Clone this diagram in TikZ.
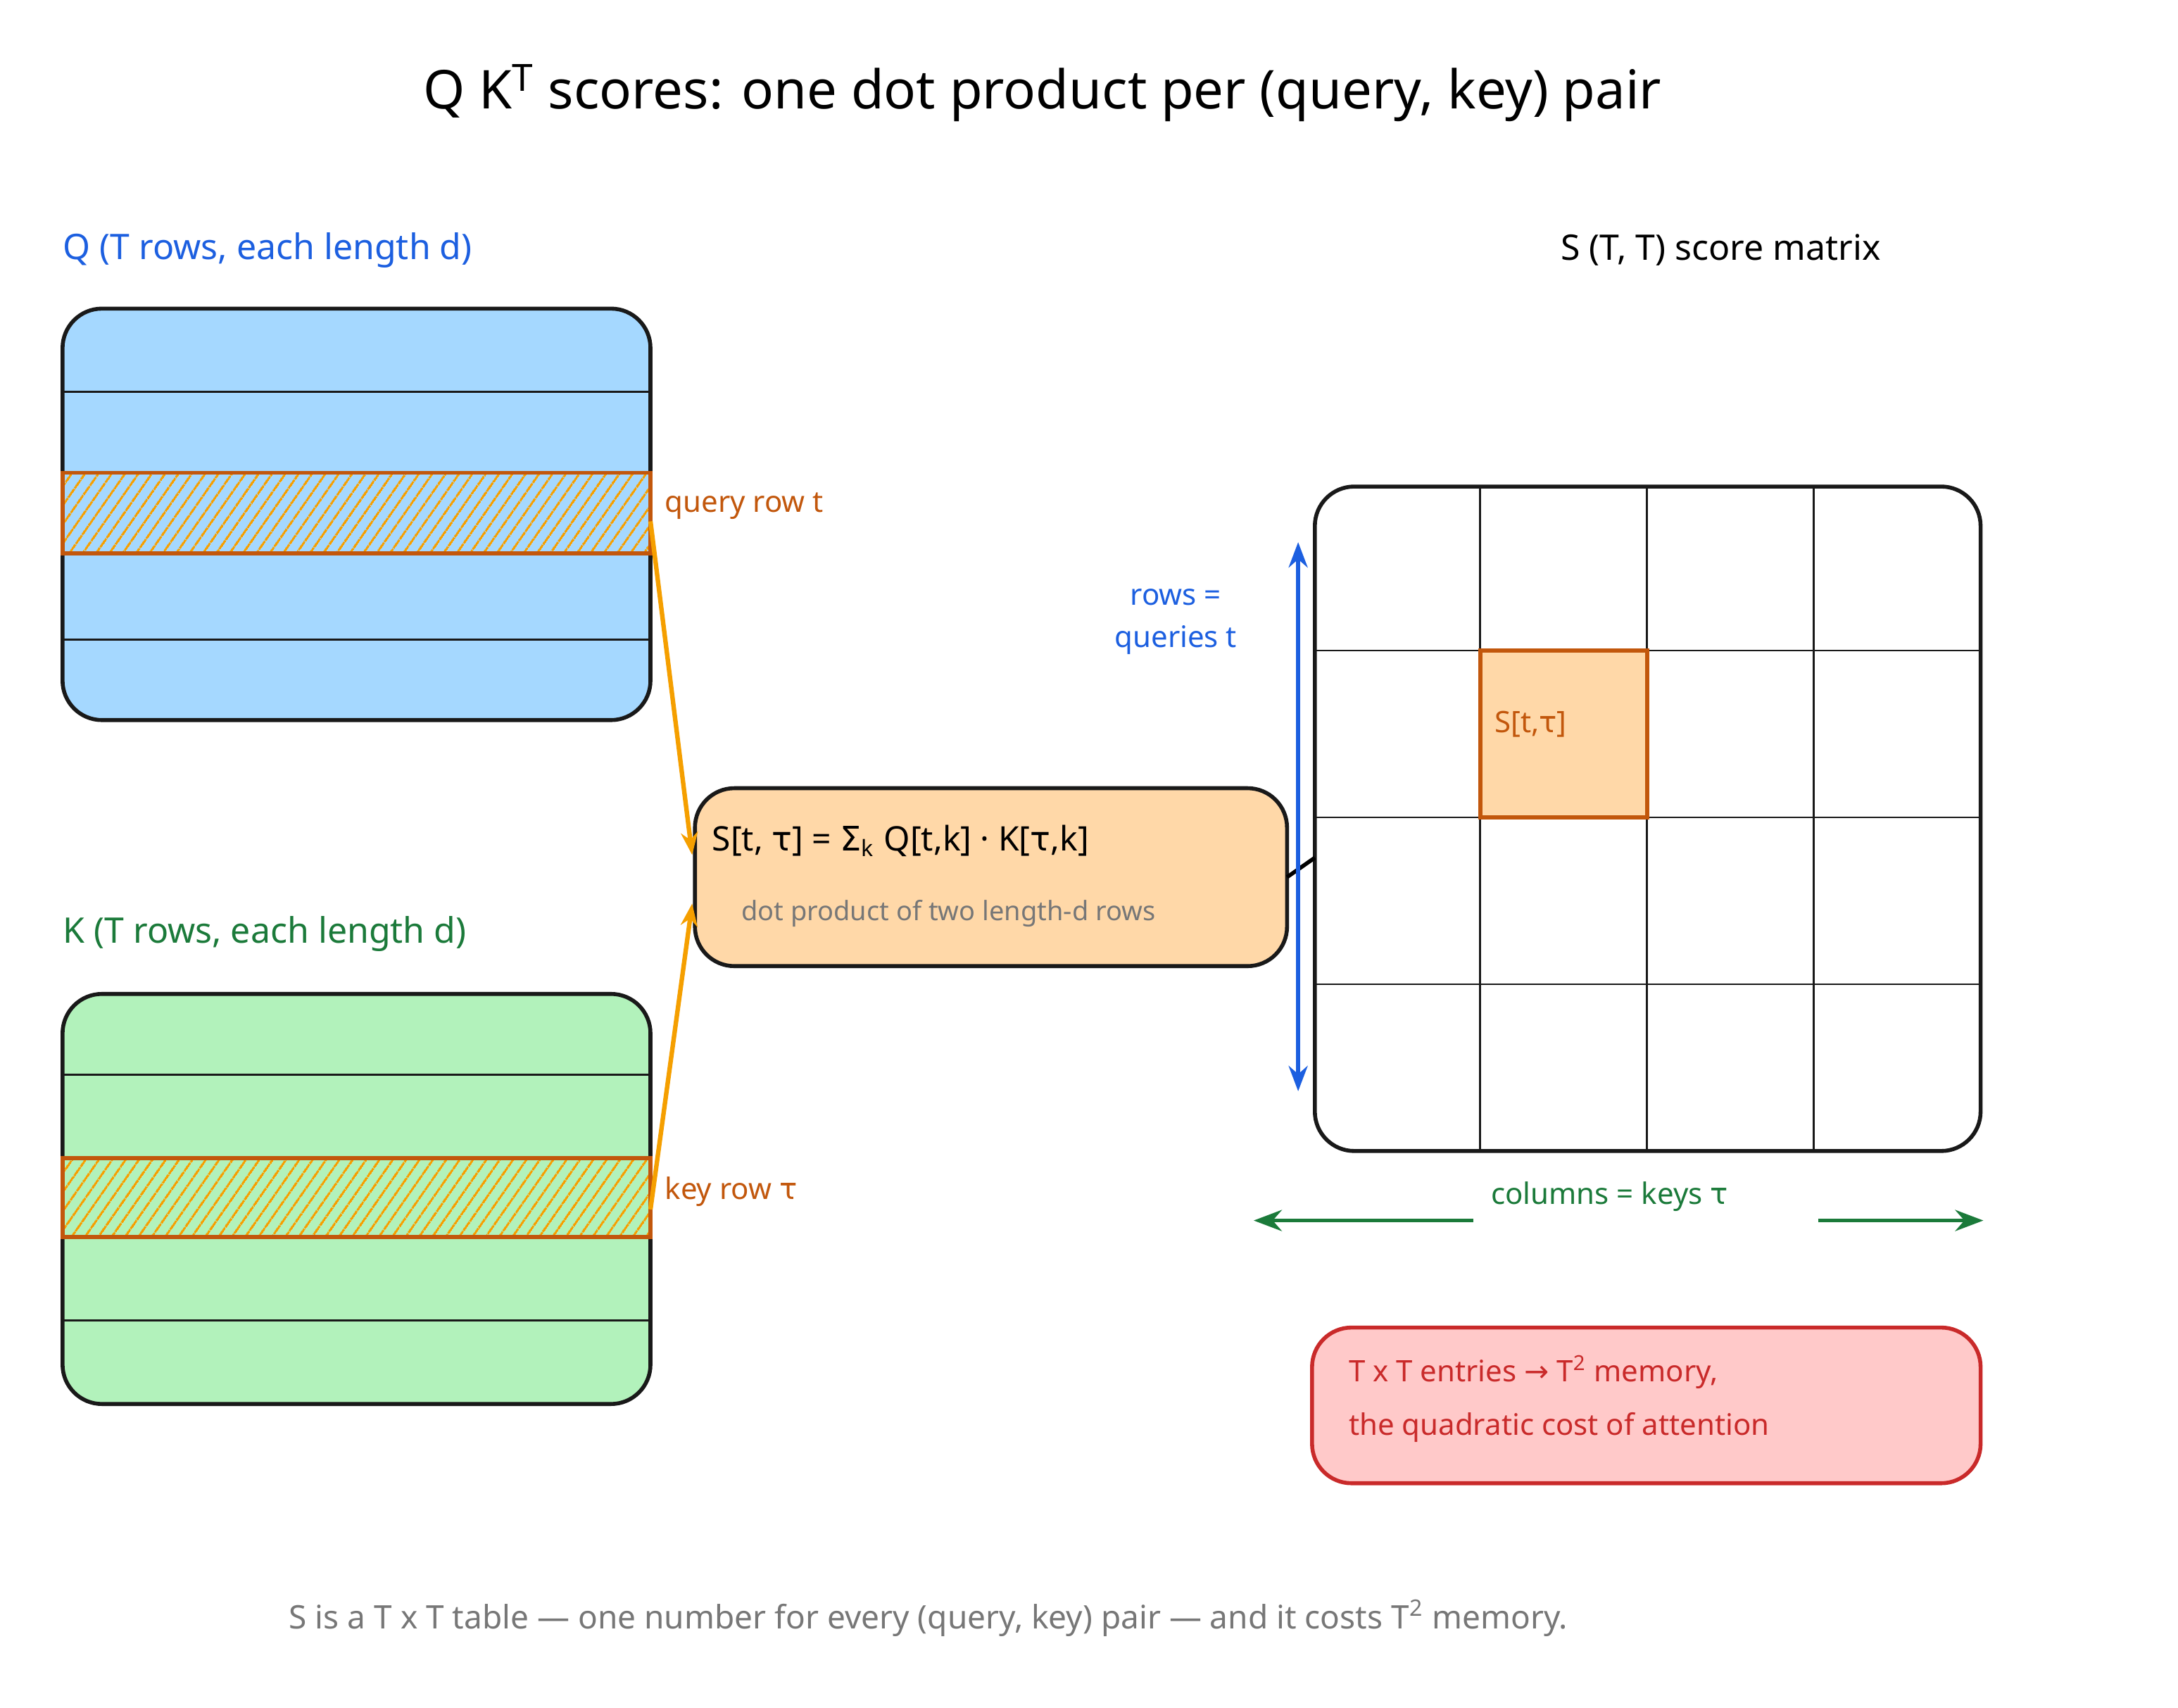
\documentclass[tikz,border=0pt]{standalone}
\usepackage{fontspec}
\setmainfont{Noto Sans}
\newfontfamily\djv{DejaVu Sans}
\usetikzlibrary{arrows.meta,patterns.meta}
\definecolor{qblue}{HTML}{A5D8FF}
\definecolor{kgreen}{HTML}{B2F2BB}
\definecolor{borange}{HTML}{FFD8A8}
\definecolor{dorange}{HTML}{C2570C}
\definecolor{aorange}{HTML}{F59F00}
\definecolor{tblue}{HTML}{1C5FE0}
\definecolor{tgreen}{HTML}{1B7A3A}
\definecolor{rfill}{HTML}{FFC9C9}
\definecolor{rline}{HTML}{C92A2A}
\definecolor{gtext}{HTML}{777777}
\begin{document}
\begin{tikzpicture}[x=0.4936pt,y=-0.4936pt,
  box/.style={draw=black!90,line width=1.4pt,rounded corners=14pt},
  grid/.style={draw=black!90,line width=0.7pt},
  band/.style={draw=dorange,line width=1.4pt,pattern={Lines[angle=55,distance=4pt,line width=0.9pt]},pattern color=aorange},
  lbl/.style={anchor=west,inner sep=0pt,font=\fontsize{12.5}{14}\selectfont},
  sm/.style={anchor=west,inner sep=0pt,font=\fontsize{10.5}{12}\selectfont},
  oarr/.style={draw=aorange,line width=1.6pt,-{Stealth[length=8pt]}}]
\useasboundingbox (0pt,0pt) rectangle (773.5pt,-606.25pt);
\node[font=\fontsize{19}{22}\selectfont] (title) at (750,67) {Q K\textsuperscript{T} scores: one dot product per (query, key) pair};
% Q
\node[lbl,text=tblue] (ql) at (45,180) {Q (T rows, each length d)};
\path[box,fill=qblue] (45,222) rectangle (468,518);
\foreach \y in {282,460} \draw[grid] (45,\y) -- (468,\y);
\path[band] (45,340) rectangle (468,398);
\node[sm,text=dorange] (qrl) at (478,364) {query row t};
% K
\node[lbl,text=tgreen] (kl) at (45,672) {K (T rows, each length d)};
\path[box,fill=kgreen] (45,715) rectangle (468,1010);
\foreach \y in {773,950} \draw[grid] (45,\y) -- (468,\y);
\path[band] (45,833) rectangle (468,890);
\node[sm,text=dorange] (krl) at (478,857) {key row {\djv τ}};
% center
\path[box,fill=borange] (500,567) rectangle (926,695);
\coordinate (dotw1) at (498,615); \coordinate (dotw2) at (498,650); \coordinate (dote) at (926,631);
\node[lbl,font=\fontsize{12}{14}\selectfont] (f) at (512,605) {S[t, {\djv τ}] = {\djv Σ}\textsubscript{k} Q[t,k] · K[{\djv τ},k]};
\node[sm,text=gtext,font=\fontsize{9.5}{11}\selectfont] (fs) at (533,657) {dot product of two length-d rows};
\coordinate (qa) at (468,375); \coordinate (ka) at (468,870);
\draw[oarr] (qa) -- (dotw1);
\draw[oarr] (ka) -- (dotw2);
% matrix
\node[font=\fontsize{12.5}{14}\selectfont] (sl) at (1238,180) {S (T, T) score matrix};
\fill[borange] (1065,468) rectangle (1185,588);
\foreach \x in {1065,1185,1305} \draw[grid] (\x,350) -- (\x,828);
\foreach \y in {468,588,708} \draw[grid] (946,\y) -- (1425,\y);
\draw[draw=dorange,line width=1.4pt] (1065,468) rectangle (1185,588);
\node[sm,text=dorange] (cl) at (1075,521) {S[t,{\djv τ}]};
\path[box] (946,350) rectangle (1425,828);
\coordinate (matw) at (946,617);
\draw[line width=1.4pt] (dote) -- (matw);
% rows arrow
\draw[tblue,line width=1.4pt,{Stealth[length=9pt]}-{Stealth[length=9pt]}] (934,390) -- (934,785);
\node[sm,text=tblue,align=center,anchor=center,font=\fontsize{10.5}{15}\selectfont] (rl) at (846,447) {rows =\\queries t};
% columns arrows
\draw[tgreen,line width=1.4pt,-{Stealth[length=10pt]}] (1060,878) -- (902,878);
\draw[tgreen,line width=1.4pt,-{Stealth[length=10pt]}] (1308,878) -- (1427,878);
\node[sm,text=tgreen,anchor=center] (col) at (1158,861) {columns = keys {\djv τ}};
% red box
\path[box,draw=rline,fill=rfill] (944,955) rectangle (1425,1067);
\node[sm,text=rline] (r1) at (970,987) {T x T entries {\djv →} T\textsuperscript{2} memory,};
\node[sm,text=rline] (r2) at (970,1027) {the quadratic cost of attention};
\node[font=\fontsize{11.5}{13}\selectfont,text=gtext] (foot) at (668,1164) {S is a T x T table — one number for every (query, key) pair — and it costs T\textsuperscript{2} memory.};
\end{tikzpicture}
\end{document}
